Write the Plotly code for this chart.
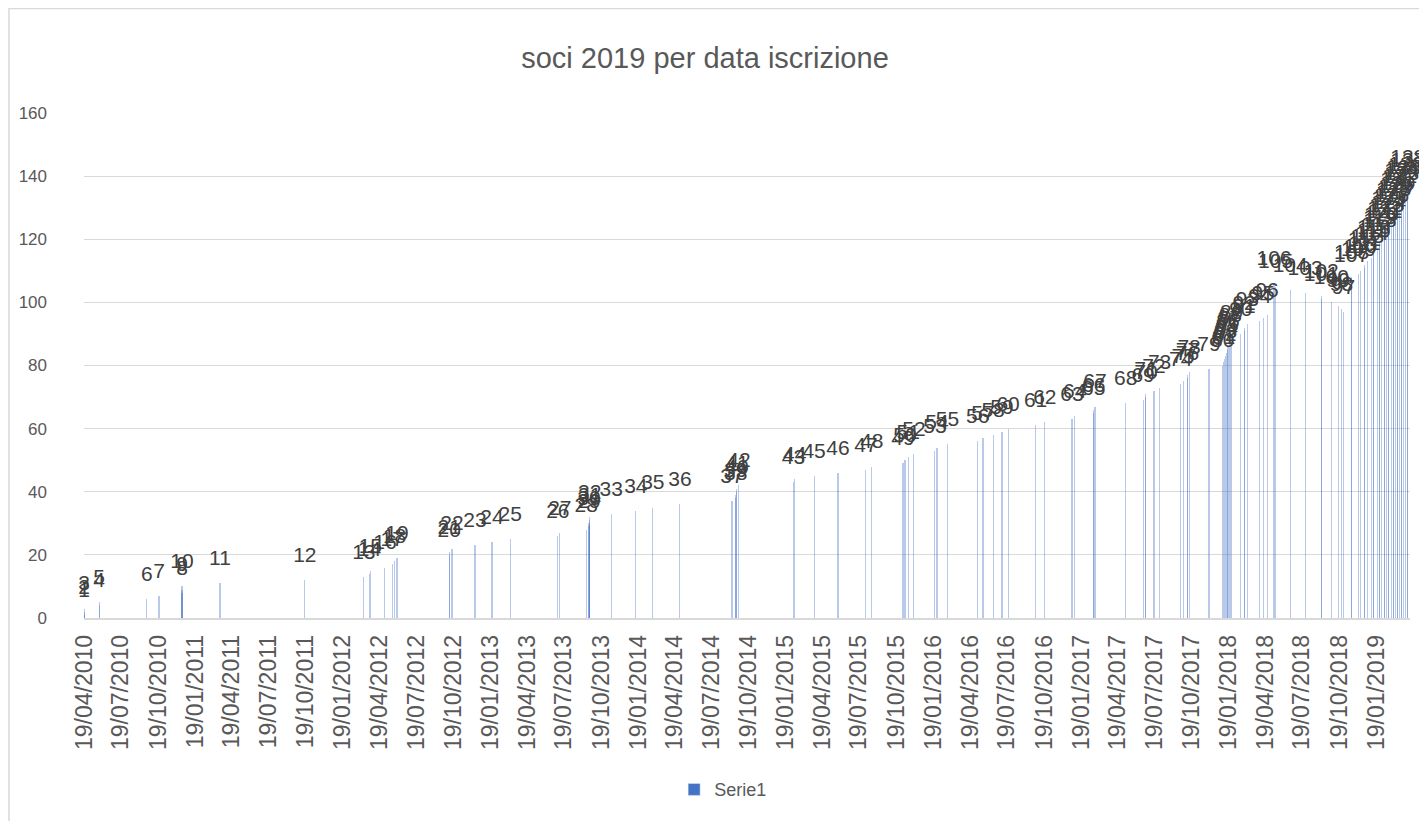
import plotly.graph_objects as go

# Member number (value) and registration date (one per member)
member_numbers = [
    1, 2, 3, 4, 5, 6, 7, 8, 9, 10,
    11, 12, 13, 14, 15, 16, 17, 18, 19, 20,
    21, 22, 23, 24, 25, 26, 27, 28, 29, 30,
    31, 32, 33, 34, 35, 36, 37, 38, 39, 40,
    41, 42, 43, 44, 45, 46, 47, 48, 49, 50,
    51, 52, 53, 54, 55, 56, 57, 58, 59, 60,
    61, 62, 63, 64, 65, 66, 67, 68, 69, 70,
    71, 72, 73, 74, 75, 76, 77, 78, 79, 80,
    81, 82, 83, 84, 85, 86, 87, 88, 89, 90,
    91, 92, 93, 94, 95, 96, 97, 98, 99, 100,
    101, 102, 103, 104, 105, 106, 107, 108, 109, 110,
    111, 112, 113, 114, 115, 116, 117, 118, 119, 120,
    121, 122, 123, 124, 125, 126, 127, 128, 129, 130,
    131, 132, 133, 134, 135, 136, 137, 138,
]

registration_dates = [
    "2010-04-19", "2010-04-19", "2010-04-19", "2010-05-26", "2010-05-26",
    "2010-09-21", "2010-10-21", "2010-12-17", "2010-12-17", "2010-12-17",
    "2011-03-21", "2011-10-17", "2012-03-11", "2012-03-25", "2012-03-27",
    "2012-05-02", "2012-05-20", "2012-05-26", "2012-06-01", "2012-10-08",
    "2012-10-08", "2012-10-15", "2012-12-11", "2013-01-22", "2013-03-08",
    "2013-07-04", "2013-07-09", "2013-09-12", "2013-09-19", "2013-09-19",
    "2013-09-21", "2013-09-21", "2013-11-13", "2014-01-13", "2014-02-24",
    "2014-05-02", "2014-09-08", "2014-09-17", "2014-09-17", "2014-09-20",
    "2014-09-20", "2014-09-25", "2015-02-07", "2015-02-10", "2015-03-30",
    "2015-05-28", "2015-08-05", "2015-08-20", "2015-11-05", "2015-11-10",
    "2015-11-18", "2015-12-02", "2016-01-23", "2016-01-28", "2016-02-23",
    "2016-05-08", "2016-05-21", "2016-06-15", "2016-07-07", "2016-07-22",
    "2016-09-28", "2016-10-21", "2016-12-27", "2017-01-03", "2017-02-19",
    "2017-02-19", "2017-02-22", "2017-05-09", "2017-06-21", "2017-06-28",
    "2017-06-28", "2017-07-18", "2017-08-01", "2017-09-22", "2017-09-28",
    "2017-10-09", "2017-10-09", "2017-10-13", "2017-12-01", "2018-01-04",
    "2018-01-06", "2018-01-09", "2018-01-11", "2018-01-13", "2018-01-15",
    "2018-01-17", "2018-01-20", "2018-01-23", "2018-01-26", "2018-02-18",
    "2018-02-26", "2018-02-26", "2018-03-06", "2018-04-06", "2018-04-14",
    "2018-04-24", "2018-10-30", "2018-10-25", "2018-10-17", "2018-09-30",
    "2018-09-05", "2018-09-05", "2018-07-27", "2018-06-20", "2018-05-15",
    "2018-05-11", "2018-11-19", "2018-11-19", "2018-12-06", "2018-12-11",
    "2018-12-21", "2018-12-21", "2018-12-28", "2019-01-08", "2019-01-13",
    "2019-01-13", "2019-01-23", "2019-01-28", "2019-01-28", "2019-02-01",
    "2019-02-09", "2019-02-09", "2019-02-14", "2019-02-19", "2019-02-19",
    "2019-02-26", "2019-03-03", "2019-03-03", "2019-03-08", "2019-03-13",
    "2019-03-13", "2019-03-18", "2019-03-23", "2019-03-23", "2019-03-28",
    "2019-04-02", "2019-04-07", "2019-04-07",
]

series_name = "Serie1"
chart_title = "soci 2019 per data iscrizione"

FONT = "Liberation Sans, Arial, sans-serif"
DAY_MS = 86400000

fig = go.Figure()

# bars (thin, light, like the original date-axis columns)
fig.add_trace(go.Bar(
    x=registration_dates,
    y=member_numbers,
    name=series_name,
    width=DAY_MS * 2.8,
    marker=dict(color="rgba(68,114,196,0.38)", line=dict(width=0)),
    showlegend=False,
    hoverinfo="x+y",
))

# legend entry with the solid series colour
fig.add_trace(go.Bar(
    x=[None],
    y=[None],
    name=series_name,
    marker=dict(color="#4472C4"),
    showlegend=True,
    hoverinfo="skip",
))

# data labels
fig.add_trace(go.Scatter(
    x=registration_dates,
    y=member_numbers,
    mode="markers+text",
    text=[str(v) for v in member_numbers],
    textposition="top center",
    textfont=dict(family=FONT, size=21, color="#404040"),
    marker=dict(size=19, opacity=0),
    showlegend=False,
    hoverinfo="skip",
    cliponaxis=False,
))

fig.update_layout(
    width=1427,
    height=821,
    autosize=False,
    paper_bgcolor="white",
    plot_bgcolor="white",
    font=dict(family=FONT, color="#595959"),
    margin=dict(l=76, r=25, t=105, b=211),
    title=dict(
        text=chart_title,
        x=697 / 1427,
        xref="container",
        xanchor="center",
        y=1 - 50 / 821,
        yref="container",
        yanchor="middle",
        font=dict(family=FONT, size=29, color="#595959"),
    ),
    showlegend=True,
    legend=dict(
        orientation="h",
        x=0.482,
        xanchor="center",
        y=-0.34,
        yanchor="middle",
        font=dict(family=FONT, size=18, color="#595959"),
        itemwidth=30,
    ),
    barmode="overlay",
    bargap=0,
    shapes=[dict(
        type="rect", xref="paper", yref="paper",
        x0=-0.0566, x1=1.0166, y0=-0.41, y1=1.207,
        line=dict(color="#d9d9d9", width=1.5),
        fillcolor="rgba(0,0,0,0)", layer="below",
    )],
)

fig.update_xaxes(
    type="date",
    range=["2010-04-18 12:00", "2019-04-12 12:00"],
    tick0="2010-04-19",
    dtick="M3",
    tickformat="%d/%m/%Y",
    tickangle=-90,
    tickfont=dict(family=FONT, size=23, color="#595959"),
    showgrid=False,
    showline=True,
    linecolor="#d9d9d9",
    linewidth=1.5,
    ticks="",
    ticklabelstandoff=6,
)

fig.update_yaxes(
    range=[0, 160],
    dtick=20,
    showgrid=True,
    gridcolor="#d9d9d9",
    gridwidth=1,
    zeroline=False,
    tickfont=dict(family=FONT, size=17, color="#595959"),
    ticks="",
    ticklabelstandoff=36,
)

fig.write_html("out.html")
